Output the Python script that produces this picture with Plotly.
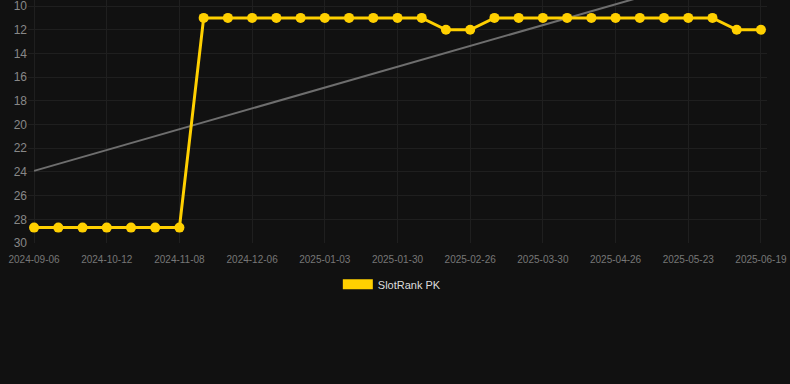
import numpy as np
import plotly.graph_objects as go

dates = ["2024-09-06", "2024-09-18", "2024-09-30", "2024-10-12", "2024-10-21", "2024-10-30",
         "2024-11-08", "2024-11-17", "2024-11-26", "2024-12-06", "2024-12-15", "2024-12-24",
         "2025-01-03", "2025-01-12", "2025-01-21", "2025-01-30", "2025-02-08", "2025-02-17",
         "2025-02-26", "2025-03-08", "2025-03-19", "2025-03-30", "2025-04-08", "2025-04-17",
         "2025-04-26", "2025-05-05", "2025-05-14", "2025-05-23", "2025-06-01", "2025-06-10",
         "2025-06-19"]
ranks = [28.7, 28.7, 28.7, 28.7, 28.7, 28.7, 28.7,
         11, 11, 11, 11, 11, 11, 11, 11, 11, 11,
         12, 12,
         11, 11, 11, 11, 11, 11, 11, 11, 11, 11,
         12, 12]
y_ticks = [10, 12, 14, 16, 18, 20, 22, 24, 26, 28, 30]
series_name = "SlotRank PK"

idx = np.arange(len(ranks))
slope, intercept = np.polyfit(idx, ranks, 1)
trend = slope * idx + intercept

fig = go.Figure()
fig.add_trace(go.Scatter(
    x=dates, y=trend, mode="lines", showlegend=False, hoverinfo="skip",
    line=dict(color="#6e6e6e", width=2),
))
fig.add_trace(go.Scatter(
    x=dates, y=ranks, mode="lines+markers", showlegend=False,
    line=dict(color="#FFD000", width=3),
    marker=dict(color="#FFD000", size=10),
))
fig.add_trace(go.Scatter(
    x=[None], y=[None], mode="lines", name=series_name,
    line=dict(color="#FFD000", width=12),
))

fig.update_layout(
    width=790, height=384,
    paper_bgcolor="#111111", plot_bgcolor="#111111",
    margin=dict(l=28, r=23, t=0, b=141),
    font=dict(family="Liberation Sans, Arial, sans-serif", color="#888888"),
    legend=dict(orientation="h", x=0.493, xanchor="center", y=-0.11, yanchor="top",
                font=dict(size=11, color="#dddddd"), bgcolor="rgba(0,0,0,0)"),
    xaxis=dict(type="category", range=[-0.25, len(dates) - 0.75],
               tickvals=dates[::3], ticktext=dates[::3],
               tickfont=dict(size=10, color="#777777"),
               ticklabelstandoff=9, ticklabeloverflow="allow",
               showgrid=True, gridcolor="#1f1f1f", zeroline=False,
               showline=False, ticks=""),
    yaxis=dict(range=[30, 9.49], tickvals=y_ticks,
               tickfont=dict(size=12, color="#888888"),
               ticklabeloverflow="allow",
               showgrid=True, gridcolor="#1f1f1f", zeroline=False,
               showline=False, ticks=""),
)

fig.write_html("out.html", config={"displayModeBar": False},
               post_script="document.body.style.margin='0';document.body.style.background='#111111';")
